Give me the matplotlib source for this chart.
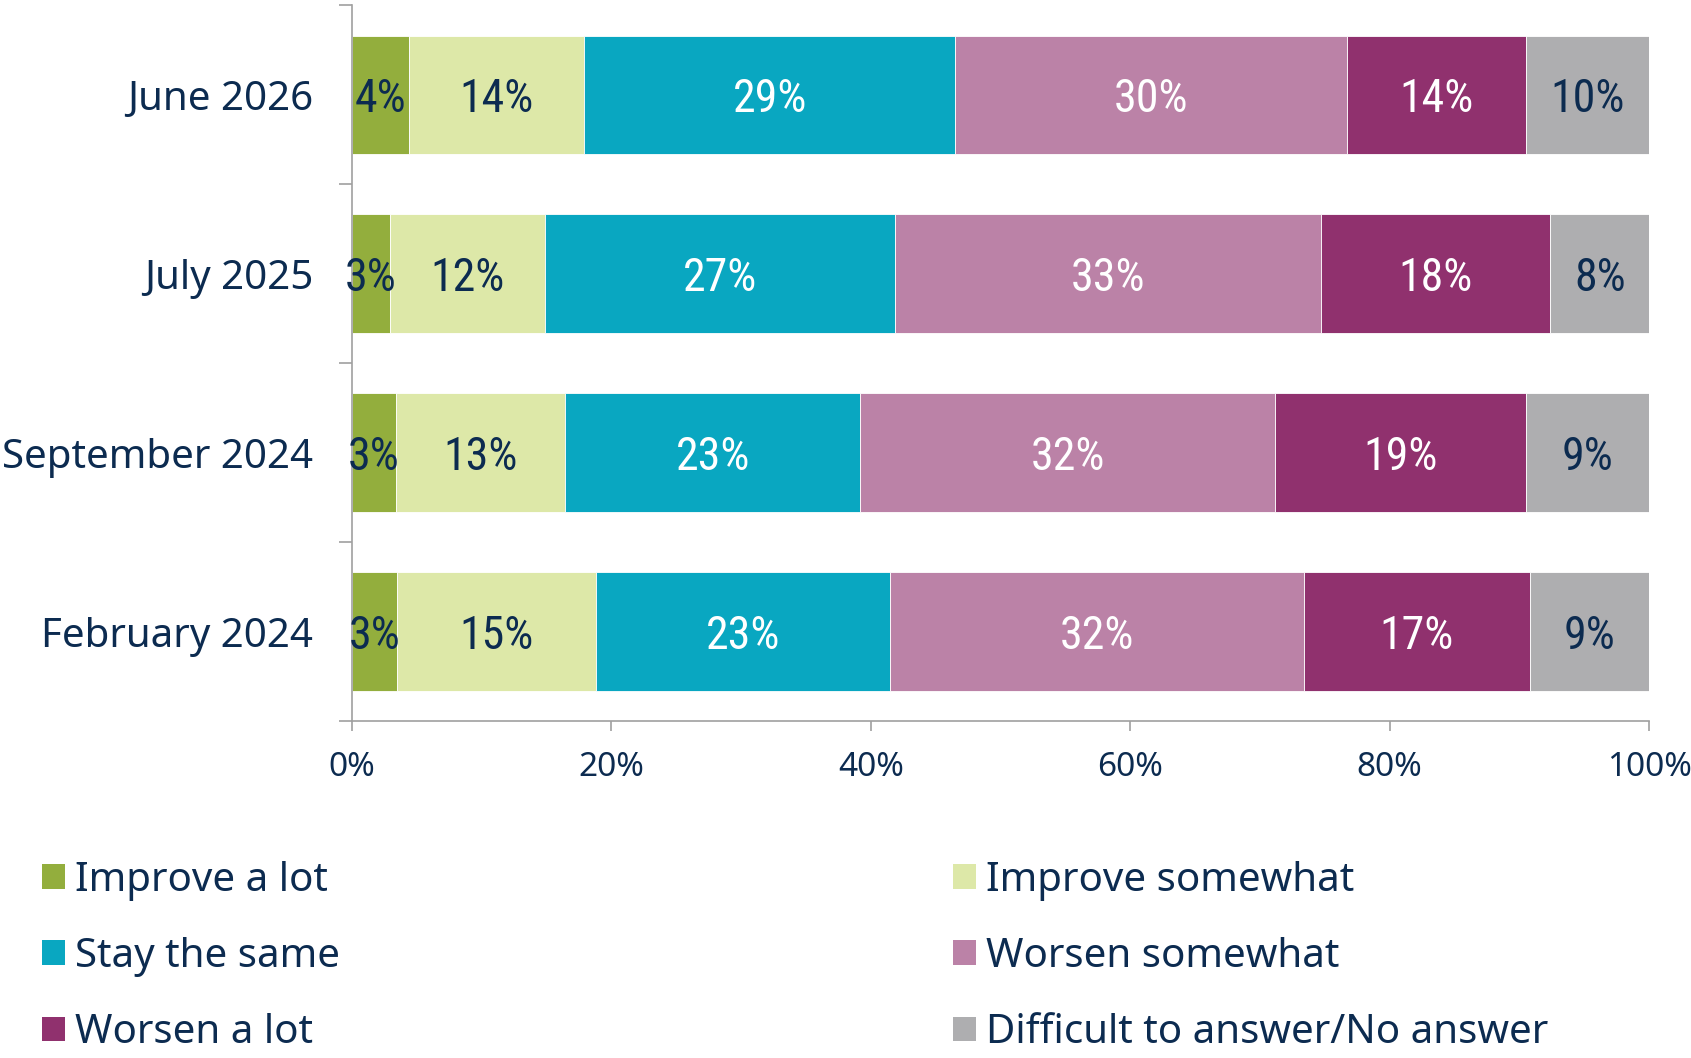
import matplotlib.pyplot as plt
from matplotlib import font_manager
from matplotlib.patches import Patch
from matplotlib.ticker import FixedLocator, PercentFormatter

# survey waves, top to bottom
waves = ["June 2026", "July 2025", "September 2024", "February 2024"]
answers = ["Improve a lot", "Improve somewhat", "Stay the same",
           "Worsen somewhat", "Worsen a lot", "Difficult to answer/No answer"]

# segment lengths (%), one list per answer
improve_lot = [4.4, 2.9, 3.4, 3.5]
improve_some = [13.5, 12.0, 13.0, 15.3]
stay_same = [28.6, 27.0, 22.8, 22.7]
worsen_some = [30.2, 32.8, 32.0, 31.9]
worsen_lot = [13.8, 17.7, 19.3, 17.4]
no_answer = [9.5, 7.6, 9.5, 9.2]
shares = [improve_lot, improve_some, stay_same, worsen_some, worsen_lot, no_answer]

# printed (rounded) labels
labels_improve_lot = [4, 3, 3, 3]
labels_improve_some = [14, 12, 13, 15]
labels_stay_same = [29, 27, 23, 23]
labels_worsen_some = [30, 33, 32, 32]
labels_worsen_lot = [14, 18, 19, 17]
labels_no_answer = [10, 8, 9, 9]
printed = [labels_improve_lot, labels_improve_some, labels_stay_same,
           labels_worsen_some, labels_worsen_lot, labels_no_answer]

colors = ["#93ae3d", "#dde8a8", "#09a7c1", "#bb82a7", "#90316e", "#aeaeb0"]
text_dark = "#0c2b50"
label_colors = [text_dark, text_dark, "white", "white", "white", text_dark]

installed = {f.name for f in font_manager.fontManager.ttflist}
narrow = "Noto Sans"
for cand in ["Liberation Sans Narrow", "DejaVu Sans Condensed", "Roboto Condensed"]:
    if cand in installed:
        narrow = cand
        break
plt.rcParams["font.family"] = ["Noto Sans", "DejaVu Sans"]

fig = plt.figure(figsize=(16.91, 10.58), dpi=100)
ax = fig.add_axes([352 / 1691, 1 - 721 / 1058, (1649 - 352) / 1691, (721 - 5.4) / 1058])

ypos = list(range(len(waves)))
left = [0.0] * len(waves)
for i, name in enumerate(answers):
    bars = ax.barh(ypos, shares[i], left=left, height=0.663, color=colors[i],
                   edgecolor="white", linewidth=0.6, label=name)
    for j, b in enumerate(bars):
        cx = b.get_x() + b.get_width() / 2
        ax.text(cx, ypos[j], f"{printed[i][j]}%", ha="center", va="center_baseline",
                color=label_colors[i], fontsize=33, family=narrow)
    left = [l + s for l, s in zip(left, shares[i])]

ax.set_xlim(0, 100)
ax.set_ylim(len(waves) - 0.5, -0.5)

ax.xaxis.set_major_locator(FixedLocator([0, 20, 40, 60, 80, 100]))
ax.xaxis.set_major_formatter(PercentFormatter(decimals=0))
ax.tick_params(axis="x", length=7.5, width=1.2, color="#a0a0a0", pad=14,
               labelsize=24, labelcolor=text_dark)

# category boundaries carry the ticks, centres carry the labels
ax.yaxis.set_major_locator(FixedLocator([k - 0.5 for k in range(len(waves) + 1)]))
ax.yaxis.set_major_formatter(plt.NullFormatter())
ax.yaxis.set_minor_locator(FixedLocator(ypos))
ax.set_yticklabels(waves, minor=True)
ax.tick_params(axis="y", which="major", length=9.5, width=1.2, color="#a0a0a0")
ax.tick_params(axis="y", which="minor", length=0, pad=28, labelsize=29,
               labelcolor=text_dark)

for side in ["top", "right"]:
    ax.spines[side].set_visible(False)
for side in ["left", "bottom"]:
    ax.spines[side].set_color("#a0a0a0")
    ax.spines[side].set_linewidth(1.2)

handles = [Patch(facecolor=c, edgecolor="none") for c in colors]
legend_kw = dict(frameon=False, fontsize=29, handlelength=0.57, handleheight=0.57,
                 handletextpad=0.25, labelspacing=0.9, borderpad=0, borderaxespad=0,
                 labelcolor=text_dark, loc="center left")
fig.legend([handles[0], handles[2], handles[4]], [answers[0], answers[2], answers[4]],
           bbox_to_anchor=(42 / 1691, 1 - 957 / 1058), **legend_kw)
fig.legend([handles[1], handles[3], handles[5]], [answers[1], answers[3], answers[5]],
           bbox_to_anchor=(953 / 1691, 1 - 957 / 1058), **legend_kw)

fig.savefig("out.png", dpi=100)
